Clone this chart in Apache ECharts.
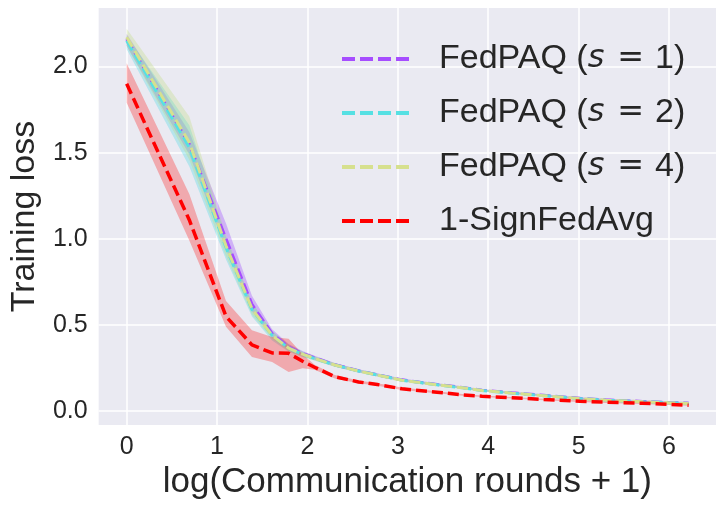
<!DOCTYPE html>
<html>
<head>
<meta charset="utf-8">
<script src="https://cdn.jsdelivr.net/npm/echarts@6/dist/echarts.min.js"></script>
<style>
  html, body { margin: 0; padding: 0; background: #fff; }
  #chart { width: 726px; height: 509px; }
</style>
</head>
<body>
<div id="chart"></div>
<script>
// x = log(rounds + 1)
var xLog = [0, 0.693, 1.099, 1.386, 1.609, 1.792, 1.946, 2.079, 2.303, 2.565, 2.773, 3.045, 3.434, 3.714, 3.932, 4.263, 4.615, 5.017, 5.303, 5.707, 5.994, 6.217];

var paq1 = [2.16, 1.55, 1.00, 0.62, 0.45, 0.372, 0.335, 0.31, 0.27, 0.235, 0.212, 0.182, 0.155, 0.138, 0.122, 0.107, 0.092, 0.075, 0.066, 0.057, 0.051, 0.047];
var paq1Lo = [2.12, 1.49, 0.94, 0.58, 0.43, 0.355, 0.32, 0.298, 0.26, 0.226, 0.204, 0.175, 0.149, 0.132, 0.116, 0.101, 0.087, 0.07, 0.061, 0.052, 0.046, 0.042];
var paq1Hi = [2.19, 1.62, 1.09, 0.67, 0.475, 0.39, 0.35, 0.322, 0.28, 0.244, 0.22, 0.19, 0.162, 0.145, 0.128, 0.113, 0.098, 0.081, 0.072, 0.063, 0.058, 0.054];

var paq2 = [2.15, 1.53, 0.95, 0.59, 0.44, 0.365, 0.33, 0.306, 0.268, 0.233, 0.21, 0.18, 0.153, 0.136, 0.12, 0.105, 0.09, 0.073, 0.064, 0.055, 0.049, 0.045];
var paq2Lo = [2.10, 1.42, 0.88, 0.55, 0.41, 0.345, 0.315, 0.295, 0.258, 0.224, 0.202, 0.173, 0.147, 0.13, 0.114, 0.1, 0.085, 0.069, 0.06, 0.051, 0.045, 0.041];
var paq2Hi = [2.18, 1.66, 1.01, 0.63, 0.465, 0.385, 0.345, 0.318, 0.278, 0.242, 0.218, 0.187, 0.159, 0.142, 0.126, 0.11, 0.095, 0.078, 0.069, 0.06, 0.054, 0.05];

var paq4 = [2.17, 1.56, 0.96, 0.595, 0.44, 0.366, 0.331, 0.307, 0.268, 0.233, 0.21, 0.18, 0.153, 0.136, 0.12, 0.105, 0.09, 0.073, 0.064, 0.055, 0.049, 0.045];
var paq4Lo = [2.12, 1.46, 0.90, 0.56, 0.42, 0.348, 0.316, 0.295, 0.258, 0.224, 0.202, 0.173, 0.147, 0.13, 0.114, 0.1, 0.085, 0.069, 0.06, 0.051, 0.045, 0.041];
var paq4Hi = [2.22, 1.71, 1.02, 0.63, 0.465, 0.385, 0.345, 0.318, 0.278, 0.242, 0.218, 0.187, 0.159, 0.142, 0.126, 0.11, 0.095, 0.078, 0.069, 0.06, 0.054, 0.05];

var sign = [1.90, 1.11, 0.55, 0.385, 0.338, 0.336, 0.29, 0.255, 0.2, 0.17, 0.155, 0.13, 0.11, 0.095, 0.087, 0.078, 0.068, 0.058, 0.052, 0.046, 0.04, 0.035];
var signLo = [1.79, 0.99, 0.49, 0.315, 0.286, 0.228, 0.25, 0.24, 0.19, 0.162, 0.148, 0.123, 0.104, 0.09, 0.083, 0.074, 0.064, 0.054, 0.048, 0.042, 0.036, 0.031];
var signHi = [2.02, 1.26, 0.64, 0.47, 0.43, 0.42, 0.33, 0.27, 0.21, 0.178, 0.162, 0.137, 0.116, 0.1, 0.091, 0.082, 0.072, 0.062, 0.056, 0.05, 0.044, 0.039];

var xTicks = [0, 1, 2, 3, 4, 5, 6];
var yTicks = [0, 0.5, 1.0, 1.5, 2.0];

var names = ['FedPAQ (s = 1)', 'FedPAQ (s = 2)', 'FedPAQ (s = 4)', '1-SignFedAvg'];
var colors = ['#a64dff', '#56e0e3', '#d6e08e', '#ff0000'];
var bandColors = ['rgba(150,60,255,0.32)', 'rgba(70,215,225,0.32)', 'rgba(190,220,120,0.3)', 'rgba(255,0,0,0.28)'];

function pairs(ys) {
  return xLog.map(function (x, i) { return [x, ys[i]]; });
}

function band(lo, hi, color) {
  return {
    type: 'custom',
    silent: true,
    clip: true,
    z: 1,
    data: xLog.map(function (x, i) { return [x, lo[i], hi[i]]; }),
    encode: { x: 0, y: [1, 2] },
    renderItem: function (params, api) {
      if (params.dataIndex !== 0) return;
      var pts = [];
      xLog.forEach(function (x, i) { pts.push(api.coord([x, hi[i]])); });
      for (var i = xLog.length - 1; i >= 0; i--) pts.push(api.coord([xLog[i], lo[i]]));
      return { type: 'polygon', shape: { points: pts }, style: { fill: color } };
    }
  };
}

function line(name, ys, color, z, w) {
  return {
    name: name, type: 'line', data: pairs(ys), z: z,
    symbol: 'none', showSymbol: false, silent: true,
    lineStyle: { color: color, width: w, type: [11, 5] },
    itemStyle: { color: color }
  };
}

var chart = echarts.init(document.getElementById('chart'));
var fontMain = 'Liberation Sans, Arial, sans-serif';

chart.setOption({
  animation: false,
  backgroundColor: '#ffffff',
  grid: { left: 97, right: 10, top: 8, bottom: 84, show: true, backgroundColor: '#eaeaf2', borderWidth: 0 },
  legend: {
    orient: 'vertical', left: 340, top: 42, padding: 0,
    itemWidth: 68, itemHeight: 14, itemGap: 20,
    data: names,
    itemStyle: { color: 'rgba(0,0,0,0)', borderWidth: 0 },
    lineStyle: { width: 4, type: [13, 5] },
    formatter: function (n) {
      var m = n.match(/^FedPAQ \(s = (\d)\)$/);
      if (m) return '{a|FedPAQ (}{i|s}{e|=}{a|' + m[1] + ')}';
      return '{a|' + n + '}';
    },
    textStyle: {
      rich: {
        a: { fontFamily: fontMain, fontSize: 34, color: '#262626' },
        e: { fontFamily: 'DejaVu Sans', fontSize: 32, color: '#262626', padding: [0, 11, 0, 13] },
        i: { fontFamily: 'DejaVu Sans', fontStyle: 'italic', fontSize: 32, color: '#262626' }
      },
      padding: [0, 0, 0, 24]
    }
  },
  xAxis: {
    type: 'value', min: -0.31, max: 6.52,
    name: 'log(Communication rounds + 1)', nameLocation: 'middle', nameGap: 40,
    nameTextStyle: { fontFamily: fontMain, fontSize: 35, color: '#262626' },
    axisLine: { show: false },
    axisTick: { show: false, customValues: xTicks },
    axisLabel: { customValues: xTicks, fontFamily: fontMain, fontSize: 25, color: '#262626', margin: 10 },
    splitLine: { show: true, lineStyle: { color: '#ffffff', width: 1.5 } }
  },
  yAxis: {
    type: 'value', min: -0.08, max: 2.34,
    name: 'Training loss', nameLocation: 'middle', nameGap: 52,
    nameTextStyle: { fontFamily: fontMain, fontSize: 34, color: '#262626' },
    axisLine: { show: false },
    axisTick: { show: false, customValues: yTicks },
    axisLabel: { customValues: yTicks, fontFamily: fontMain, fontSize: 25, color: '#262626', margin: 11,
      formatter: function (v) { return v.toFixed(1); } },
    splitLine: { show: true, lineStyle: { color: '#ffffff', width: 1.5 } }
  },
  series: [
    band(paq1Lo, paq1Hi, bandColors[0]),
    band(paq2Lo, paq2Hi, bandColors[1]),
    band(paq4Lo, paq4Hi, bandColors[2]),
    band(signLo, signHi, bandColors[3]),
    line(names[0], paq1, colors[0], 3, 3),
    line(names[1], paq2, colors[1], 4, 3),
    line(names[2], paq4, colors[2], 5, 3),
    line(names[3], sign, colors[3], 6, 3.5)
  ]
});
</script>
</body>
</html>
